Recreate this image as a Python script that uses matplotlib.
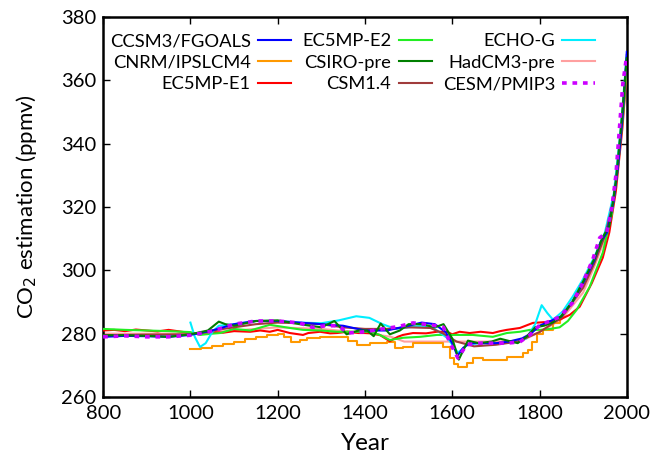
import numpy as np
import matplotlib
matplotlib.use("Agg")
import matplotlib.pyplot as plt

plt.rcParams['font.family'] = ['Lato', 'DejaVu Sans']

# CCSM3/FGOALS
ccsm3_yr = [800, 850, 900, 950, 1000, 1050, 1100, 1150, 1200, 1250, 1300, 1350, 1400, 1450,
            1500, 1530, 1560, 1585, 1600, 1612, 1625, 1640, 1670, 1700, 1730, 1760, 1780,
            1800, 1825, 1850, 1875, 1900, 1925, 1940, 1955, 1970, 1980, 1990, 2000]
ccsm3_co2 = [279, 279.3, 279.2, 279, 279.6, 281, 283, 284, 284, 283.5, 283, 282.5, 281, 281,
             282.5, 283.5, 283, 280.5, 277, 273, 275.5, 277, 277, 277, 277.5, 278.5, 280,
             282.5, 284, 285.5, 290, 296, 303, 309, 312, 322, 333, 348, 369]

# CNRM/IPSLCM4 (stepped part, then the smooth rise)
cnrm_yr = [1000, 1025, 1050, 1075, 1100, 1125, 1150, 1175, 1200, 1215, 1230, 1250, 1267, 1297,
           1336, 1360, 1381, 1411, 1450, 1469, 1487, 1510, 1556, 1579, 1594, 1605, 1613, 1633,
           1647, 1670, 1702, 1725, 1748, 1762, 1773, 1782, 1794, 1808, 1831, 1846]
cnrm_co2 = [275, 275.5, 276, 276.8, 277.5, 278.3, 279, 279.6, 280, 279, 277.4, 278, 278.7, 279,
            279, 277.8, 276.5, 277, 277.4, 275.5, 275.8, 277, 277, 275.8, 272.3, 270.5, 269.5, 270.8,
            272.3, 271.7, 271.7, 272.7, 272.7, 274, 274.9, 277.4, 280, 281.2, 283.4, 285]
cnrm_rise_yr = [1846, 1875, 1900, 1925, 1950, 1970, 1985, 2000]
cnrm_rise_co2 = [285, 290, 295.5, 302.5, 311, 323, 342, 367]

# EC5MP-E1
e1_yr = [800, 825, 850, 875, 900, 925, 950, 975, 1000, 1025, 1050, 1075, 1100, 1137, 1160, 1182,
         1200, 1228, 1258, 1270, 1297, 1320, 1336, 1360, 1385, 1411, 1434, 1457, 1475, 1487, 1510,
         1540, 1565, 1588, 1600, 1617, 1640, 1665, 1693, 1710, 1725, 1755, 1785, 1817, 1846, 1870,
         1892, 1920, 1945, 1960, 1975, 1990, 2000]
e1_co2 = [281, 281.2, 280.8, 281.3, 281, 280.7, 281.2, 280.7, 280.2, 280, 280.5, 280.3, 280.8,
          280.6, 281, 280.6, 281.2, 280.2, 279.6, 280.2, 280.6, 280.1, 280.2, 280.6, 280.2, 280.2,
          279.6, 277.6, 279, 279.6, 280.2, 280.1, 280.6, 280.6, 279.8, 280.6, 280.2, 280.6, 280.2,
          280.8, 281.2, 281.8, 283.4, 283.7, 284.4, 286, 288.5, 296, 304, 312, 325, 345, 363]

# EC5MP-E2
e2_yr = [800, 850, 900, 950, 1000, 1022, 1050, 1068, 1100, 1137, 1182, 1205, 1228, 1258, 1300,
         1336, 1380, 1411, 1434, 1457, 1487, 1526, 1565, 1588, 1617, 1647, 1693, 1725, 1755, 1778,
         1801, 1824, 1846, 1865, 1885, 1915, 1945, 1966, 1980, 1992, 2000]
e2_co2 = [281.5, 281.2, 281, 280.8, 280.5, 279.6, 280, 280.2, 281.5, 281, 282.8, 282.3, 281.8,
          281.2, 281, 280.6, 280.6, 280.6, 279.6, 278, 278.7, 279, 279.6, 279.6, 279.6, 279.6, 279,
          280.2, 280.6, 281.2, 281.2, 281.5, 282, 284, 287.5, 294.8, 305.6, 318, 333, 350, 364]

# CSIRO-pre
csiro_yr = [800, 850, 900, 950, 1000, 1040, 1065, 1080, 1100, 1150, 1200, 1250, 1300, 1330, 1358,
            1385, 1405, 1420, 1436, 1457, 1480, 1500, 1530, 1560, 1580, 1600, 1615, 1636, 1660,
            1690, 1710, 1750, 1770, 1790, 1810, 1830, 1850, 1875, 1900, 1925, 1945, 1960, 1975,
            1990, 2000]
csiro_co2 = [279.5, 279.5, 279.3, 279, 279.8, 281, 283.8, 283, 282.5, 284, 284.2, 283, 282, 284,
             279.8, 281, 281, 279.2, 283.2, 279.8, 281, 283, 283, 282, 283, 278.5, 271.8, 277.8, 277,
             277.5, 278.4, 277, 279, 282, 282.5, 283.5, 285.5, 290, 296.5, 303.5, 310.5, 314, 328,
             350, 367]

# CSM1.4
csm_yr = [800, 900, 1000, 1050, 1100, 1150, 1200, 1250, 1300, 1350, 1400, 1450, 1500, 1550, 1580,
          1610, 1650, 1700, 1750, 1800, 1850, 1900, 1925, 1950, 1970, 1985, 2000]
csm_co2 = [279.5, 279.7, 279.8, 281, 282, 283, 283.5, 283.3, 283, 282, 281.5, 281.5, 282, 281.8,
           280, 277.5, 276, 276.5, 277.5, 280.5, 285, 294.5, 302, 311, 322, 340, 366]

# ECHO-G
echo_yr = [1000, 1010, 1022, 1035, 1050, 1065, 1100, 1150, 1200, 1250, 1300, 1340, 1380, 1410,
           1440, 1470, 1500, 1530, 1560, 1590, 1613, 1635, 1660, 1700, 1740, 1770, 1790, 1805,
           1818, 1831, 1853, 1876, 1899, 1925, 1950, 1970, 1985, 2000]
echo_co2 = [283.5, 279, 275.8, 277, 280.5, 282.5, 283, 284, 284, 283.5, 283.3, 284.2, 285.5, 285,
            283, 281.5, 282, 282.5, 281.5, 278.5, 274, 276.5, 277, 277, 277.2, 278.5, 283, 289,
            286.5, 284.4, 287, 291.7, 297, 304, 312, 324, 343, 368]

# HadCM3-pre
had_yr = [800, 900, 1000, 1100, 1200, 1300, 1400, 1460, 1490, 1600, 1700, 1760, 1800, 1850, 1900,
          1925, 1950, 1970, 1985, 2000]
had_co2 = [280, 280, 280, 281, 282, 281.5, 280.2, 279, 277.5, 277.5, 277.5, 277.8, 280.5, 284.5,
           293, 301, 310, 322, 340, 365]

# CESM/PMIP3
cesm_yr = [800, 850, 900, 950, 1000, 1050, 1100, 1150, 1200, 1250, 1280, 1310, 1340, 1360, 1400,
           1440, 1475, 1510, 1550, 1580, 1595, 1613, 1633, 1663, 1700, 1725, 1755, 1778, 1801,
           1825, 1846, 1876, 1899, 1922, 1938, 1954, 1966, 1975, 1991, 2000]
cesm_co2 = [279, 279.3, 279, 279, 279.5, 280.8, 283, 284, 284, 283.4, 282, 282.5, 282.5, 280.2,
            280.6, 281.5, 282.2, 283.4, 282.8, 282, 277, 272.3, 276.5, 277, 277, 277, 277.4, 279.6,
            282.8, 284, 285.3, 289.8, 296, 303.4, 310.3, 312, 320, 330, 359, 368]

fig = plt.figure(figsize=(6.57, 4.55), dpi=100)
ax = fig.add_axes([0.157, 0.1275, 0.797, 0.835])

lw = 1.5
ax.plot(had_yr, had_co2, color='#ffa0a0', lw=lw, label='HadCM3-pre', zorder=2)
ax.plot(cnrm_yr, cnrm_co2, color='#ff9900', lw=lw, drawstyle='steps-post',
        label='CNRM/IPSLCM4', zorder=3)
ax.plot(cnrm_rise_yr, cnrm_rise_co2, color='#ff9900', lw=lw, zorder=3)
ax.plot(e1_yr, e1_co2, color='#ff0000', lw=lw, label='EC5MP-E1', zorder=3)
ax.plot(e2_yr, e2_co2, color='#22ee22', lw=lw, label='EC5MP-E2', zorder=3)
ax.plot(echo_yr, echo_co2, color='#00eeff', lw=lw, label='ECHO-G', zorder=3)
ax.plot(csm_yr, csm_co2, color='#a03c3c', lw=lw, label='CSM1.4', zorder=4)
ax.plot(ccsm3_yr, ccsm3_co2, color='#0000ff', lw=lw, label='CCSM3/FGOALS', zorder=4)
ax.plot(csiro_yr, csiro_co2, color='#007f00', lw=lw, label='CSIRO-pre', zorder=5)
ax.plot(cesm_yr, cesm_co2, color='#cc00ff', lw=2.6, dashes=(1.3, 1.6),
        label='CESM/PMIP3', zorder=6)

ax.set_xlim(800, 2000)
ax.set_ylim(260, 380)
ax.set_xticks(np.arange(800, 2001, 200))
ax.set_yticks(np.arange(260, 381, 20))
ax.tick_params(direction='in', top=True, right=True, length=5, width=1,
               labelsize=14.5)
ax.tick_params(axis='x', pad=6)
ax.tick_params(axis='y', pad=5)
for s in ax.spines.values():
    s.set_linewidth(1.8)
ax.set_xlabel('Year', fontsize=17.5, labelpad=8)
ax.set_ylabel('CO$_2$ estimation (ppmv)', fontsize=16, labelpad=16)

order = ['CCSM3/FGOALS', 'CNRM/IPSLCM4', 'EC5MP-E1', 'EC5MP-E2', 'CSIRO-pre', 'CSM1.4',
         'ECHO-G', 'HadCM3-pre', 'CESM/PMIP3']
handles, labels = ax.get_legend_handles_labels()
hmap = dict(zip(labels, handles))
ax.legend([hmap[k] for k in order], order, ncol=3, loc='upper right',
          bbox_to_anchor=(0.94, 0.958), frameon=False, markerfirst=False,
          fontsize=13.2, handlelength=1.8, handletextpad=0.4, columnspacing=0.6,
          labelspacing=0.3, borderpad=0, borderaxespad=0)

fig.savefig('out.png', dpi=100)
